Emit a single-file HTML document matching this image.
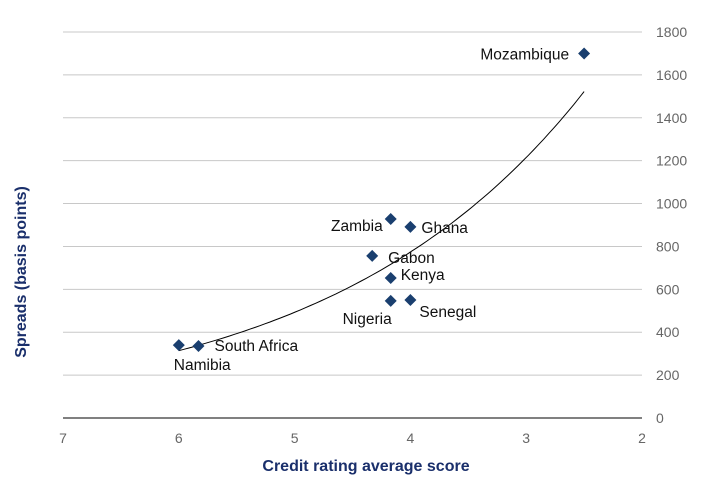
<!DOCTYPE html>
<html><head><meta charset="utf-8"><style>
body{margin:0;background:#fff;}
svg text{font-family:"Liberation Sans",sans-serif;}
</style></head><body>
<svg id="chart" width="711" height="492"></svg>
<script>
const countries=["Mozambique","Zambia","Ghana","Gabon","Kenya","Nigeria","Senegal","South Africa","Namibia"];
const ratings=[2.5,4.17,4.0,4.33,4.17,4.17,4.0,5.83,6.0];
const spreads=[1700,928,891,756,653,546,550,336,340];
const xTicks=[7,6,5,4,3,2];
const yTicks=[0,200,400,600,800,1000,1200,1400,1600,1800];
const labelOffsets={"Mozambique":[-15,6,"end"],"Zambia":[-8,12,"end"],"Ghana":[11,6,"start"],"Gabon":[16,7,"start"],"Kenya":[10,2,"start"],"Nigeria":[1,23,"end"],"Senegal":[9,17,"start"],"South Africa":[16,5,"start"],"Namibia":[-5,25,"start"]};
const NS="http://www.w3.org/2000/svg";
const svg=document.getElementById('chart');
const L=63,R=642,T=32,B=418;
const xs=v=>L+(7-v)/5*(R-L);
const ys=v=>B-v/1800*(B-T);
function mk(t,a,p){const e=document.createElementNS(NS,t);for(const k in a)e.setAttribute(k,a[k]);(p||svg).appendChild(e);return e;}
yTicks.forEach(v=>{
  if(v>0){const g=mk('line',{x1:L,x2:R,y1:ys(v),y2:ys(v),stroke:'#c8c8c8','stroke-width':1});
  
  }
  const t=mk('text',{x:656,y:ys(v)+5,'font-size':14,fill:'#666'});t.textContent=v;
  
  
});
const ax=mk('line',{x1:L,x2:R,y1:B,y2:B,stroke:'#000','stroke-width':1});


xTicks.forEach(v=>{
  const t=mk('text',{x:xs(v),y:443,'font-size':14,fill:'#666','text-anchor':'middle'});t.textContent=v;
  
  
});
// exponential trendline fit (log-linear regression)
let n=ratings.length,sx=0,sy=0,sxx=0,sxy=0;
for(let i=0;i<n;i++){const x=ratings[i],y=Math.log(spreads[i]);sx+=x;sy+=y;sxx+=x*x;sxy+=x*y;}
const b=(n*sxy-sx*sy)/(n*sxx-sx*sx),a=(sy-b*sx)/n;
const xmin=Math.min(...ratings),xmax=Math.max(...ratings);
let d='';
for(let i=0;i<=80;i++){const x=xmax-(xmax-xmin)*i/80;const y=Math.exp(a+b*x);d+=(i?'L':'M')+xs(x).toFixed(1)+','+ys(y).toFixed(1);}
const tl=mk('path',{d:d,fill:'none',stroke:'#000','stroke-width':1});


countries.forEach((c,i)=>{
  const x=xs(ratings[i]),y=ys(spreads[i]);
  const p=mk('path',{d:`M${x},${y-6}L${x+6},${y}L${x},${y+6}L${x-6},${y}Z`,fill:'#1a3f6f'});
  
  
  const o=labelOffsets[c];
  const t=mk('text',{x:x+o[0],y:y+o[1],'font-size':15.5,fill:'#111','text-anchor':o[2]});t.textContent=c;
  
  
});
const xt=mk('text',{x:366,y:471,'font-size':16,'font-weight':'bold',fill:'#1a2f6b','text-anchor':'middle'});xt.textContent='Credit rating average score';


const yt=mk('text',{x:0,y:0,'font-size':16,'font-weight':'bold',fill:'#1a2f6b','text-anchor':'middle',transform:'translate(26,272) rotate(-90)'});yt.textContent='Spreads (basis points)';


</script>
</body></html>
